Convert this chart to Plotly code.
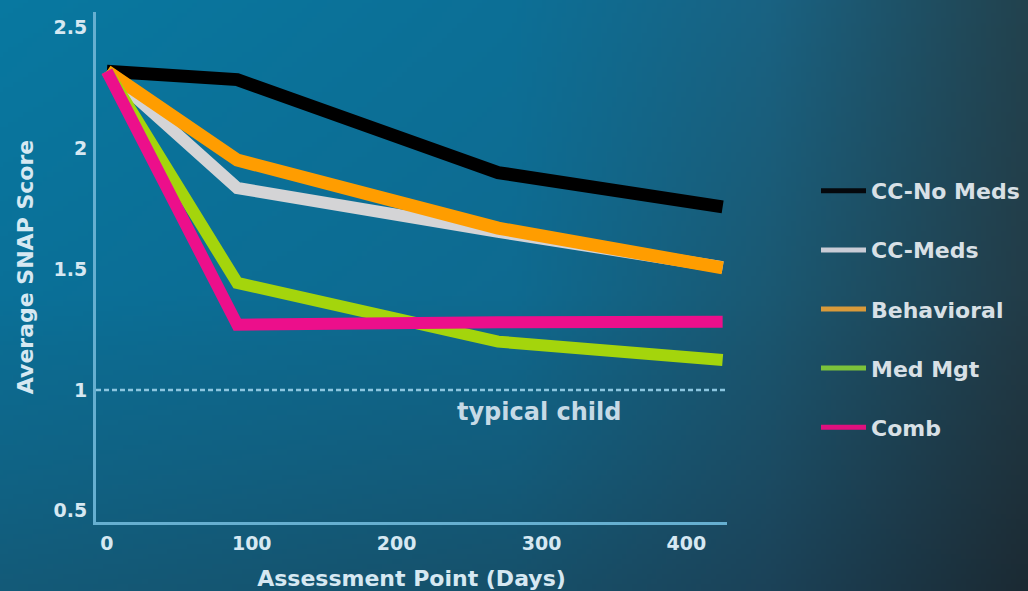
import base64, struct, zlib
import plotly.graph_objects as go

# ---------------- data ----------------
days = [0, 90, 270, 425]
series_names = ["CC-No Meds", "CC-Meds", "Behavioral", "Med Mgt", "Comb"]
cc_no_meds = [2.32, 2.285, 1.90, 1.758]
cc_meds = [2.32, 1.836, 1.655, 1.508]
behavioral = [2.32, 1.952, 1.67, 1.505]
med_mgt = [2.32, 1.443, 1.20, 1.124]
comb = [2.32, 1.27, 1.28, 1.282]
typical_child = 1.0
x_ticks = [0, 100, 200, 300, 400]
y_ticks = [0.5, 1, 1.5, 2, 2.5]
y_tick_text = ["0.5", "1", "1.5", "2", "2.5"]

values = [cc_no_meds, cc_meds, behavioral, med_mgt, comb]
colors = ["#000000", "#d4d4d6", "#ff9d00", "#a4d50c", "#ec0f8b"]
legend_colors = ["#05080c", "#c9ccd6", "#d99a3a", "#7cc23a", "#e0107e"]
widths = [13, 12, 13, 12, 12]

# ---------------- background gradient (PNG data URI) ----------------
W, H = 1028, 591
grid_u = [0.0, 0.5, 0.75, 1.0]
grid_v = [0.0, 0.5, 1.0]
grid = [
    ["#0878a0", "#0c6f96", "#196282", "#22424e"],
    ["#0a7098", "#0e6a90", "#1a5872", "#223c48"],
    ["#135a78", "#16506a", "#1b4258", "#1b2a33"],
]
def hx(c):
    return tuple(int(c[i:i + 2], 16) for i in (1, 3, 5))
gridc = [[hx(c) for c in row] for row in grid]

def seg(arr, t):
    for i in range(len(arr) - 1):
        if t <= arr[i + 1]:
            return i, (t - arr[i]) / (arr[i + 1] - arr[i])
    return len(arr) - 2, 1.0

def color_at(u, v):
    i, fu = seg(grid_u, u)
    j, fv = seg(grid_v, v)
    out = []
    for k in range(3):
        a = gridc[j][i][k] * (1 - fu) + gridc[j][i + 1][k] * fu
        b = gridc[j + 1][i][k] * (1 - fu) + gridc[j + 1][i + 1][k] * fu
        out.append(int(round(a * (1 - fv) + b * fv)))
    return out

pw, ph = 206, 119
raw = bytearray()
for yy in range(ph):
    raw.append(0)
    for xx in range(pw):
        raw.extend(color_at(xx / (pw - 1), yy / (ph - 1)))

def chunk(t, d):
    return struct.pack(">I", len(d)) + t + d + struct.pack(">I", zlib.crc32(t + d) & 0xffffffff)

png = (b"\x89PNG\r\n\x1a\n"
       + chunk(b"IHDR", struct.pack(">IIBBBBB", pw, ph, 8, 2, 0, 0, 0))
       + chunk(b"IDAT", zlib.compress(bytes(raw), 9))
       + chunk(b"IEND", b""))
bg_uri = "data:image/png;base64," + base64.b64encode(png).decode()

# ---------------- figure ----------------
ML, MR, MT, MB = 96, 301, 12, 69
PW, PH = W - ML - MR, H - MT - MB

FONT = "DejaVu Sans"
TXT = "#d6e8f2"

fig = go.Figure()
for i, (name, vals) in enumerate(zip(series_names, values)):
    fig.add_trace(go.Scatter(
        x=days, y=vals, name=name, mode="lines",
        line=dict(color=colors[i], width=widths[i]),
        legendgroup=name, showlegend=False,
    ))
# legend entries (thin swatches, no marks drawn)
for i, name in enumerate(series_names):
    fig.add_trace(go.Scatter(
        x=[None], y=[None], name=name, mode="lines",
        line=dict(color=legend_colors[i], width=5),
        legendgroup=name, showlegend=True,
    ))

fig.add_shape(type="line", xref="paper", x0=0, x1=1, yref="y",
              y0=typical_child, y1=typical_child,
              line=dict(color="#8cc6e0", width=2.5, dash="5px,3px"), layer="below")

fig.add_annotation(x=298, y=typical_child, yshift=-22, text="typical child",
                   showarrow=False, font=dict(family=FONT, size=24, color="#c6dae6", weight="bold"))

fig.add_layout_image(dict(
    source=bg_uri, xref="paper", yref="paper",
    x=-ML / PW, y=1 + MT / PH, sizex=W / PW, sizey=H / PH,
    xanchor="left", yanchor="top", sizing="stretch", layer="below",
))

fig.update_layout(
    width=W, height=H,
    margin=dict(l=ML, r=MR, t=MT, b=MB, autoexpand=False),
    paper_bgcolor="#0f5a78", plot_bgcolor="rgba(0,0,0,0)",
    showlegend=True,
    legend=dict(
        xref="container", yref="container",
        x=816 / W, y=1 - 309 / H, xanchor="left", yanchor="middle",
        bgcolor="rgba(0,0,0,0)", tracegroupgap=27.5, itemwidth=45,
        font=dict(family=FONT, size=22, color="#d8e0e6", weight="bold"),
    ),
    xaxis=dict(
        range=[-7.5, 428], tickvals=x_ticks, showgrid=False, zeroline=False,
        showline=True, linecolor="#66afd0", linewidth=3,
        ticks="outside", ticklen=2, tickcolor="rgba(0,0,0,0)",
        tickfont=dict(family=FONT, size=19, color=TXT, weight="bold"),
        title=dict(text="Assessment Point (Days)", standoff=25,
                   font=dict(family=FONT, size=22, color=TXT, weight="bold")),
    ),
    yaxis=dict(
        range=[0.453, 2.565], tickvals=y_ticks, ticktext=y_tick_text,
        showgrid=False, zeroline=False,
        showline=True, linecolor="#66afd0", linewidth=3,
        ticks="outside", ticklen=2, tickcolor="rgba(0,0,0,0)",
        tickfont=dict(family=FONT, size=19, color=TXT, weight="bold"),
        title=dict(text="Average SNAP Score", standoff=14,
                   font=dict(family=FONT, size=22, color=TXT, weight="bold")),
    ),
)

fig.write_html("out.html")
